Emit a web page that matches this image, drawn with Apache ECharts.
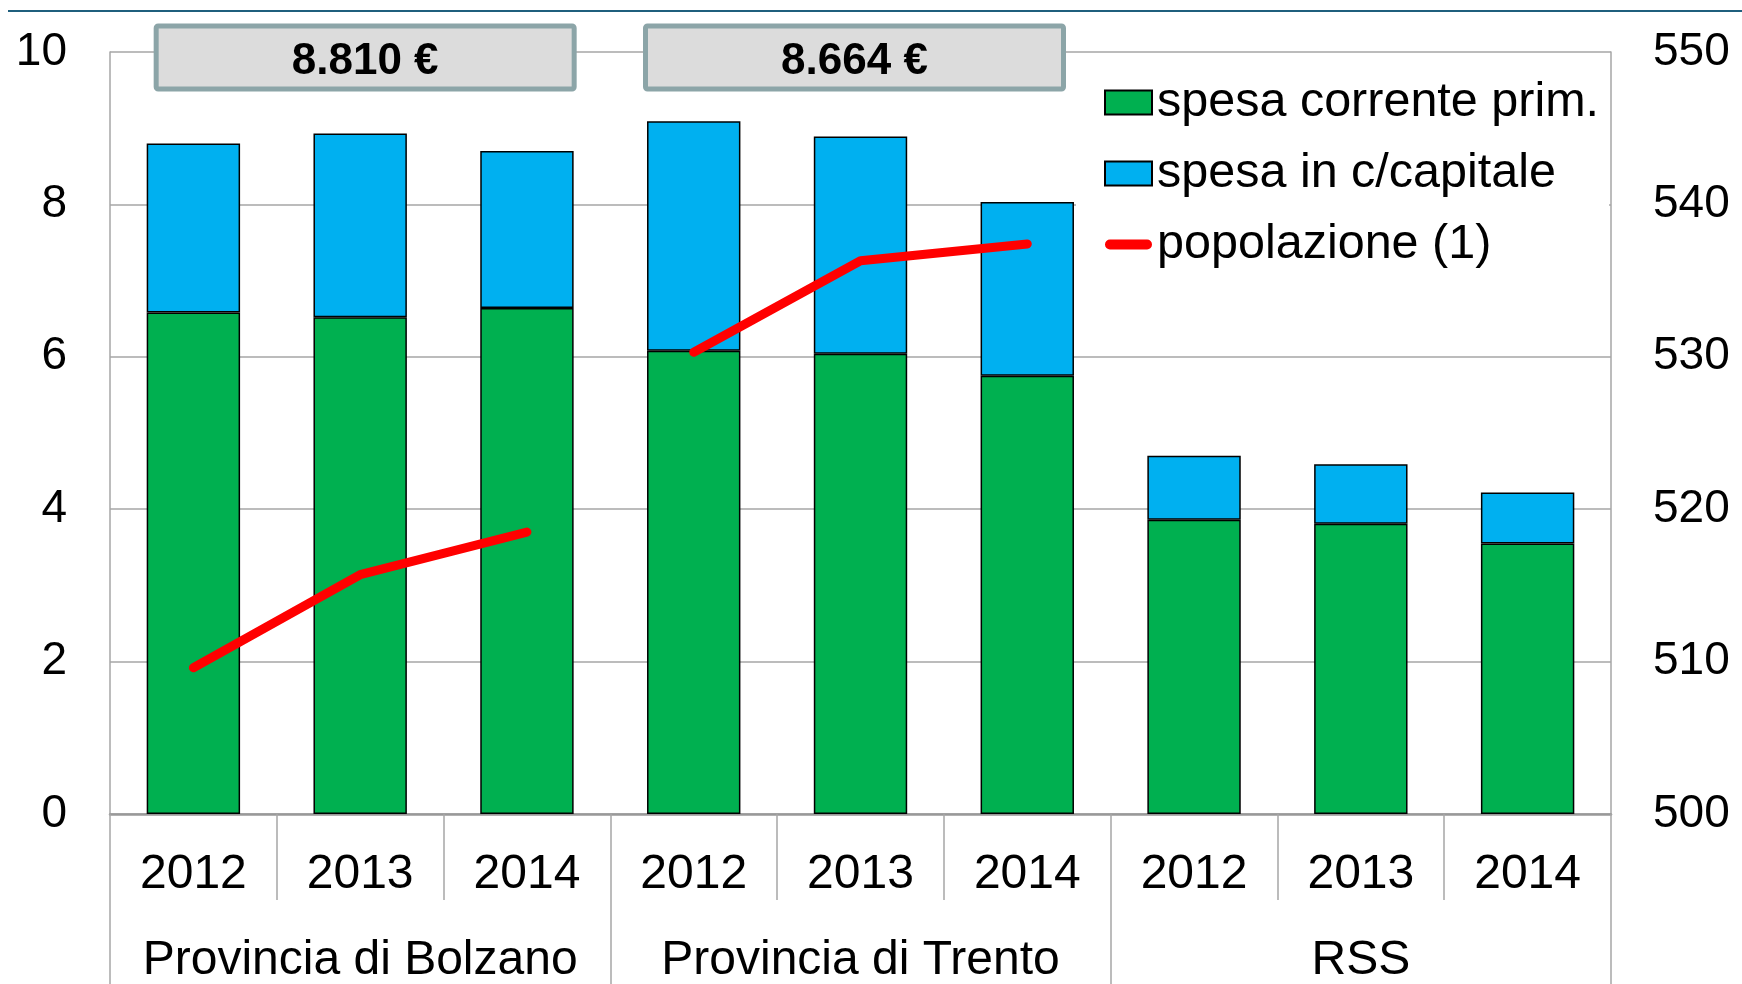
<!DOCTYPE html>
<html>
<head>
<meta charset="utf-8">
<script src="https://cdn.jsdelivr.net/npm/echarts@6/dist/echarts.min.js"></script>
<style>
  html, body { margin: 0; padding: 0; background: #fff; }
  #chart { width: 1742px; height: 984px; }
</style>
</head>
<body>
<div id="chart"></div>
<script>
// values
const years = ['2012', '2013', '2014', '2012', '2013', '2014', '2012', '2013', '2014'];
const groups = ['Provincia di Bolzano', 'Provincia di Trento', 'RSS'];
const spesaCorrente = [6.58, 6.52, 6.64, 6.08, 6.04, 5.75, 3.86, 3.81, 3.55];
const spesaCapitale = [2.22, 2.41, 2.06, 3.01, 2.85, 2.28, 0.84, 0.78, 0.67];
const popBolzano = [509.6, 515.7, 518.5, '-', '-', '-', '-', '-', '-'];
const popTrento = ['-', '-', '-', 530.3, 536.3, 537.4, '-', '-', '-'];
const boxLabels = ['8.810 €', '8.664 €'];

const FONT = '"Liberation Sans", Arial, sans-serif';
const GRID_COLOR = '#a6a6a6';

const option = {
  animation: false,
  backgroundColor: '#fff',
  textStyle: { fontFamily: FONT },
  grid: {
    left: 110, right: 131, top: 52, bottom: 170,
    containLabel: false,
    outerBoundsMode: 'none'
  },
  legend: {
    orient: 'vertical',
    left: 1076, top: 62,
    padding: [16, 10, 16, 28],
    backgroundColor: '#fff',
    itemWidth: 47, itemHeight: 24, itemGap: 22,
    icon: 'rect',
    selectedMode: false,
    textStyle: { fontSize: 48.5, color: '#000', fontFamily: FONT },
    data: [
      { name: 'spesa corrente prim.' },
      { name: 'spesa in c/capitale' },
      {
        name: 'popolazione (1)',
        icon: 'path://M5,0 L43,0 A5,5 0 0,1 43,10 L5,10 A5,5 0 0,1 5,0 Z',
        itemStyle: { color: '#ff0000', borderWidth: 0 }
      }
    ],
    z: 10
  },
  xAxis: [{
    type: 'category',
    data: years,
    position: 'bottom',
    axisLine: { show: true, lineStyle: { color: '#999', width: 2.5 } },
    axisTick: { show: true, interval: 0, length: 86, lineStyle: { color: GRID_COLOR, width: 1.5 } },
    axisLabel: { interval: 0, margin: 37, fontSize: 48, color: '#000', fontFamily: FONT },
    splitLine: { show: false }
  }, {
    type: 'category',
    data: groups,
    position: 'bottom',
    axisLine: { show: false },
    axisTick: { show: true, interval: 0, length: 170, lineStyle: { color: GRID_COLOR, width: 1.5 } },
    axisLabel: { interval: 0, margin: 123, fontSize: 48, color: '#000', fontFamily: FONT },
    splitLine: { show: false }
  }],
  yAxis: [{
    type: 'value',
    min: 0, max: 10, interval: 2,
    axisLine: { show: true, lineStyle: { color: GRID_COLOR, width: 1.5 } },
    axisTick: { show: false },
    axisLabel: { margin: 43, fontSize: 46, color: '#000', fontFamily: FONT },
    splitLine: { show: true, lineStyle: { color: GRID_COLOR, width: 1.5 } }
  }, {
    type: 'value',
    position: 'right',
    min: 500, max: 550, interval: 10,
    axisLine: { show: true, lineStyle: { color: GRID_COLOR, width: 1.5 } },
    axisTick: { show: false },
    axisLabel: { margin: 42, fontSize: 46, color: '#000', fontFamily: FONT },
    splitLine: { show: false }
  }],
  series: [{
    name: 'spesa corrente prim.',
    type: 'bar',
    stack: 'spesa',
    barWidth: '56%',
    data: spesaCorrente,
    itemStyle: { color: '#00b050', borderColor: '#000', borderWidth: 1.5 }
  }, {
    name: 'spesa in c/capitale',
    type: 'bar',
    stack: 'spesa',
    barWidth: '56%',
    data: spesaCapitale,
    itemStyle: { color: '#00b0f0', borderColor: '#000', borderWidth: 1.5 }
  }, {
    name: 'popolazione (1)',
    type: 'line',
    yAxisIndex: 1,
    data: popBolzano,
    symbol: 'none',
    lineStyle: { color: '#ff0000', width: 9, cap: 'round', join: 'round' },
    itemStyle: { color: '#ff0000' },
    z: 5
  }, {
    name: 'popolazione (1)',
    type: 'line',
    yAxisIndex: 1,
    data: popTrento,
    symbol: 'none',
    lineStyle: { color: '#ff0000', width: 9, cap: 'round', join: 'round' },
    itemStyle: { color: '#ff0000' },
    z: 5
  }]
};

const chart = echarts.init(document.getElementById('chart'));
chart.setOption(option);

// grey value boxes over the first two groups, near the middle bar
const boxShift = [5, -6];
const graphics = [{
  type: 'line',
  shape: { x1: 8, y1: 11, x2: 1742, y2: 11 },
  style: { stroke: '#1f5f7d', lineWidth: 2 },
  z: 100
}];
boxLabels.forEach((txt, i) => {
  const cx = chart.convertToPixel({ xAxisIndex: 0 }, i * 3 + 1) + boxShift[i];
  graphics.push({
    type: 'rect',
    shape: { x: cx - 209, y: 26, width: 418, height: 63, r: 2 },
    style: { fill: '#dcdcdc', stroke: '#8ca5a8', lineWidth: 5 },
    z: 100
  });
  graphics.push({
    type: 'text',
    x: cx, y: 62,
    style: {
      text: txt, fill: '#000',
      fontSize: 44, fontWeight: 'bold', fontFamily: FONT,
      align: 'center', verticalAlign: 'middle'
    },
    z: 101
  });
});
chart.setOption({ graphic: graphics });
</script>
</body>
</html>
